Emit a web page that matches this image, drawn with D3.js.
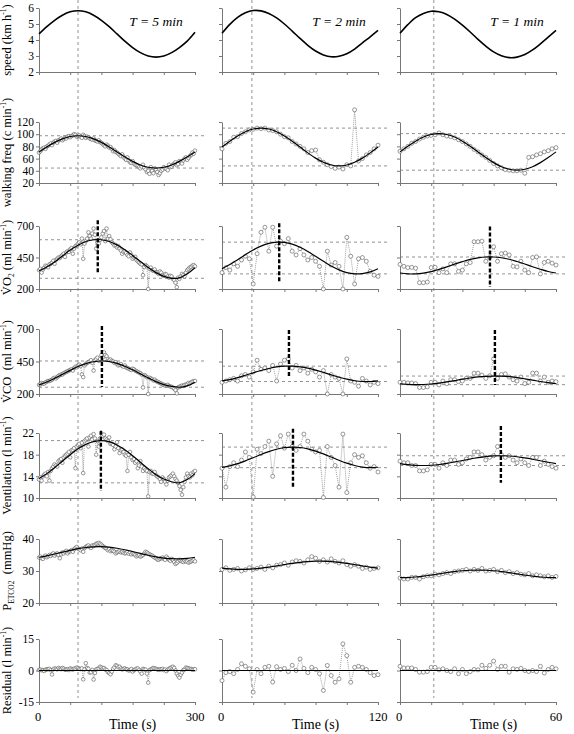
<!DOCTYPE html>
<html><head><meta charset="utf-8">
<script src="https://cdn.jsdelivr.net/npm/d3@7"></script>
<style>
body{margin:0;background:#fff}
svg{display:block}
svg text{font-family:"Liberation Serif","Times New Roman",Times,"Nimbus Roman","DejaVu Serif",serif}
</style>
</head><body><svg id="c" width="574" height="734"></svg>
<script>
// ---------- DATA ----------
const durations = [300, 120, 60];
const periodLabels = ["T = 5 min", "T = 2 min", "T = 1 min"];
const timeTickLabels = [["0", "300"], ["0", "120"], ["0", "60"]];
const speedPeakTimes = [75, 23, 13];           // vertical grey dashed line (s)

const speedTicks = [2, 3, 4, 5, 6];
const walkTicks = [20, 40, 60, 80, 100, 120];
const vo2Ticks = [200, 450, 700];
const vco2Ticks = [200, 450, 700];
const veTicks = [10, 14, 18, 22];
const petTicks = [20, 30, 40];
const residTicks = [-15, 0, 15];

// fitted curves, sampled at T/20 steps
const speedFit1 = [4.38,4.83,5.23,5.55,5.76,5.83,5.76,5.55,5.23,4.83,4.38,3.93,3.53,3.21,3.0,2.93,3.0,3.21,3.53,3.93,4.48];
const speedFit2 = [4.42,4.98,5.42,5.7,5.84,5.82,5.66,5.38,5.0,4.56,4.1,3.67,3.31,3.07,2.95,2.98,3.14,3.43,3.82,4.2,4.6];
const speedFit3 = [4.42,4.96,5.4,5.66,5.8,5.76,5.6,5.31,4.93,4.5,4.04,3.62,3.26,3.02,2.9,2.93,3.09,3.38,3.76,4.18,4.6];

const walkFit1 = [71,79.2,86.6,92.4,96.2,97.5,96.2,92.4,86.6,79.2,71,62.8,55.4,49.6,45.8,44.5,45.8,49.6,55.4,62.8,71];
const walkFit2 = [79,88.6,97.2,104.1,108.5,110,108.5,104.1,97.2,88.6,79,69.4,60.8,53.9,49.5,48,49.5,53.9,60.8,69.4,79];
const walkFit3 = [71,80.3,88.6,95.3,99.5,101,99.5,95.3,88.6,80.3,71,61.7,53.4,46.7,42.5,41,42.5,46.7,53.4,61.7,71];

const vo2Fit1 = [345,375,415,462,509,548,577,591,591,577,550,512,466,418,370,330,300,285,288,320,368];
const vo2Fit2 = [361,394,433,472,510,540,562,572,570,556,531,498,459,420,382,352,330,320,322,336,361];
const vo2Fit3 = [327,320,320,326,338,356,376,397,417,435,447,454,454,448,436,418,398,377,357,339,327];

const vco2Fit1 = [270,292,320,351,382,411,434,448,454,450,436,414,386,355,324,295,272,258,252,262,290];
const vco2Fit2 = [301,311,326,344,363,381,396,408,414,414,409,399,384,366,347,329,314,302,296,296,301];
const vco2Fit3 = [279,274,272,273,277,284,293,303,314,323,331,336,338,337,333,326,317,307,296,287,279];

const veFit1 = [13.6,14.5,15.6,16.8,18.0,19.1,19.9,20.4,20.6,20.4,19.8,18.9,17.8,16.6,15.4,14.3,13.5,13.0,12.8,13.4,14.5];
const veFit2 = [15.67,15.93,16.34,16.86,17.44,18.03,18.57,19.0,19.29,19.4,19.32,19.07,18.66,18.14,17.56,16.97,16.43,16.0,15.71,15.6,15.68];
const veFit3 = [16.36,16.16,16.04,16.0,16.05,16.18,16.39,16.64,16.92,17.2,17.44,17.64,17.76,17.8,17.75,17.62,17.41,17.16,16.88,16.6,16.36];

const petFit1 = [34.29,34.75,35.3,35.9,36.47,36.97,37.35,37.56,37.59,37.44,37.11,36.65,36.1,35.5,34.93,34.43,34.05,33.84,33.81,33.96,34.29];
const petFit2 = [30.88,30.64,30.52,30.52,30.64,30.88,31.21,31.6,32.0,32.39,32.72,32.96,33.08,33.08,32.96,32.72,32.39,32.0,31.6,31.21,30.88];
const petFit3 = [27.9,27.96,28.13,28.39,28.73,29.1,29.47,29.81,30.07,30.24,30.3,30.24,30.07,29.81,29.47,29.1,28.73,28.39,28.13,27.96,27.9];

const residFit = [0, 0];

// measured breath-by-breath values (evenly spread over the window)
const walkData1 = [70,72,75,77,78,76,80,81,83,85,82,86,88,89,86,90,91,93,90,92,94,93,96,97,95,97,98,100,99,96,97,98,96,94,99,97,94,96,95,93,92,91,93,90,89,88,90,87,86,84,82,80,83,81,78,79,76,72,74,71,70,68,66,64,67,63,60,58,62,57,54,53,56,52,50,49,48,46,44,47,50,45,42,38,40,35,46,40,36,44,42,38,33,36,40,42,46,44,43,41,50,46,47,50,52,54,49,51,56,55,52,57,60,62,58,61,64,66,70,68,73];
const walkData2 = [76,85,88,95,96,101,104,107,108,110,109,110,107,106,104,100,96,94,88,84,80,76,70,73,74,58,54,50,47,44,46,43,50,48,140,56,60,66,70,76,82];
const walkData3 = [72,76,80,85,88,92,95,97,98,99,102,99,97,96,94,91,88,84,80,75,71,66,62,57,52,48,45,42,41,40,40,41,36,62,63,66,68,71,73,76,78];

const vo2Data1 = [350,360,330,355,370,385,380,372,395,400,410,425,400,430,440,450,445,460,470,480,455,490,500,495,515,525,480,520,540,545,560,570,555,600,440,560,580,600,650,620,600,640,680,630,520,570,560,590,610,640,660,580,680,600,620,595,570,560,545,550,530,540,520,505,480,495,500,485,470,460,490,470,440,450,455,430,420,410,400,395,310,375,390,380,200,360,370,350,345,355,335,330,320,340,330,310,305,320,315,300,290,305,300,280,270,250,215,290,280,300,320,310,300,330,350,360,370,375,385,390,380];
const vo2Data2 = [330,370,350,400,380,430,460,440,240,480,650,690,500,690,540,580,560,600,500,470,520,470,430,450,420,380,200,500,390,410,380,200,610,460,240,440,450,420,340,310,300];
const vo2Data3 = [395,380,370,372,365,250,250,255,370,372,330,360,330,400,400,340,350,400,410,575,575,580,420,450,535,420,480,485,470,380,375,420,350,330,450,455,320,410,420,405,390];

const vco2Data1 = [270,275,285,280,280,290,295,300,300,305,310,320,325,320,330,340,345,350,350,360,365,370,375,380,385,390,380,400,410,405,420,425,415,350,330,420,430,440,445,450,460,440,380,460,470,480,455,470,500,480,520,500,490,470,460,465,455,450,440,445,430,420,425,430,415,410,420,405,400,395,390,385,395,390,380,375,370,365,360,350,250,345,340,330,200,325,320,315,305,310,300,295,290,285,280,275,270,265,268,270,262,258,255,250,240,230,205,250,255,260,265,262,270,272,275,285,280,290,295,298,300];
const vco2Data2 = [290,300,310,320,300,340,350,330,370,460,390,400,380,420,300,430,460,470,400,420,380,400,360,390,370,330,380,200,350,330,320,200,470,300,290,260,320,300,270,290,280];
const vco2Data3 = [290,290,285,285,280,250,250,255,290,290,270,300,280,310,310,295,300,320,320,360,360,345,320,340,470,320,350,355,330,310,300,330,280,290,360,360,300,330,290,300,295];

const veData1 = [13.4,13.8,13.2,14.0,14.3,14.5,14.0,14.8,13.2,15.0,15.5,15.8,16.2,16.0,15.8,16.8,17.0,17.2,16.5,17.5,17.8,18.0,18.2,18.5,17.5,18.8,18.9,19.2,15.5,19.5,19.8,20.0,19.2,20.2,14.6,20.5,20.8,21.0,19.5,21.2,21.5,20.8,21.8,21.0,18.0,20.5,19.5,21.0,21.9,21.5,21.7,21.0,20.8,20.5,21.2,20.0,20.0,19.8,19.0,19.5,20.3,19.2,18.3,18.8,19.0,18.5,18.0,17.8,15.0,18.0,18.5,17.5,17.0,17.2,16.5,16.8,15.5,16.0,16.8,15.8,15.0,15.5,15.2,15.0,10.3,14.8,15.0,14.5,14.5,14.8,14.2,14.0,13.8,13.5,13.0,13.8,13.5,13.0,12.5,13.2,13.8,14.0,14.2,14.5,14.0,13.5,13.2,12.8,12.2,11.5,10.6,12.0,13.0,13.8,14.5,14.0,13.8,14.5,14.2,14.8,15.0];
const veData2 = [15.5,12.0,15.8,16.5,15.8,17.0,18.5,17.5,10.2,19.0,18.2,19.5,20.5,14.0,20.0,21.5,19.2,21.8,19.5,18.8,19.5,21.8,20.5,19.0,18.5,18.8,10.1,19.5,17.5,16.0,12.0,21.8,11.0,16.5,18.0,17.5,17.8,16.5,15.5,15.8,14.8];
const veData3 = [16.8,16.5,16.5,16.0,16.0,15.0,15.0,15.2,16.2,16.2,15.5,16.5,16.0,17.0,17.0,16.2,16.5,17.2,17.5,18.5,18.5,18.0,17.0,17.5,17.8,19.5,18.0,17.5,17.8,17.0,16.5,17.2,16.5,16.0,17.5,17.5,16.0,16.8,16.2,15.8,15.5];

const petData1 = [34.2,34.5,34.0,33.8,34.5,34.8,34.3,34.6,35.0,34.7,35.2,35.5,34.8,35.3,35.5,35.0,34.0,35.2,35.8,35.5,36.0,36.3,35.5,36.0,36.2,36.5,36.0,36.8,37.2,37.5,37.0,36.8,36.5,37.0,36.0,37.2,37.5,37.8,38.0,37.5,37.2,38.0,37.8,38.2,38.5,38.6,38.8,38.5,38.2,37.8,37.5,37.2,37.0,36.5,36.8,36.2,36.5,36.3,36.0,35.5,35.8,36.0,36.2,35.8,36.0,35.7,35.5,35.6,36.0,35.4,35.8,35.2,35.5,35.3,35.0,34.6,34.8,35.0,34.5,34.7,35.0,35.5,36.0,35.8,35.5,35.2,35.0,34.8,34.5,34.2,34.0,33.6,33.5,33.8,34.0,34.2,33.8,33.5,34.5,34.0,33.5,33.2,33.8,33.5,32.8,32.2,32.5,33.0,33.5,33.2,33.0,32.8,33.2,33.0,33.0,32.6,32.8,33.0,33.2,33.4,33.0];
const petData2 = [30.5,31.0,30.2,30.5,30.8,30.0,30.4,31.0,30.5,30.8,31.2,30.5,31.5,31.0,31.8,32.0,32.5,31.8,32.8,33.2,33.0,32.5,33.5,34.5,34.0,33.0,33.5,32.8,33.8,33.0,32.5,33.2,32.0,31.5,32.0,31.5,30.8,31.2,30.5,30.8,31.0];
const petData3 = [27.8,27.5,27.5,28.0,28.0,27.5,28.2,28.5,28.5,29.0,28.8,29.2,29.5,29.2,29.8,30.0,30.2,30.5,30.0,30.5,30.2,30.8,30.0,30.2,30.5,29.8,30.2,29.5,29.8,29.2,29.5,29.0,28.8,29.2,28.5,28.8,28.5,28.2,28.5,28.0,28.3];

const residData1 = [0.3,0.5,0.1,0.2,-0.2,0.4,0.5,0.6,0.8,0.2,-1.9,0.5,1.0,0.8,0.5,1.2,0.8,0.6,1.2,0.9,0.3,0.5,0.6,0.2,1.0,0.7,0.4,0.9,0.8,1.4,1.2,0.8,0.7,1.0,-4.2,0.5,3.5,1.2,0.8,-1.0,-0.8,0.3,-4.3,-1.2,0.5,0.8,1.0,1.8,1.5,1.0,1.2,0.5,0.2,-0.8,-1.2,-1.8,-0.5,0.8,1.5,2.5,2.2,1.5,1.8,1.0,0.5,0.8,1.0,0.6,0.5,0.0,0.2,0.7,-0.5,0.2,0.5,0.9,1.0,0.3,-0.5,-1.5,0.8,0.5,0.4,-1.5,-5.8,0.2,0.5,0.9,1.2,1.0,0.8,0.5,0.3,0.6,0.5,0.8,0.2,0.5,-0.3,0.4,0.8,1.2,1.5,1.8,1.2,0.0,-1.5,-2.5,-3.4,-2.0,-1.0,0.2,0.5,1.4,1.2,1.0,0.8,0.7,0.4,0.5,0.6];
const residData2 = [-4.8,-1.0,-0.5,-1.5,0.5,3.2,2.0,0.8,-10.3,0.5,-1.5,1.5,2.0,-5.5,1.8,0.5,1.0,-0.5,2.5,0.0,5.5,1.0,-1.0,1.5,0.5,-1.5,-9.5,2.4,-2.4,-5.6,-4.0,12.7,7.1,-5.6,1.5,2.0,1.5,0.5,-1.0,-2.4,-2.0];
const residData3 = [2.0,1.2,1.2,1.2,0.5,-0.8,-0.8,-0.5,1.5,1.5,0.3,0.8,0.0,-0.5,0.8,-1.5,0.5,-1.5,-0.5,0.5,0.3,2.5,1.0,2.5,4.5,0.5,2.0,2.0,-0.8,0.8,0.5,1.0,0.0,-0.5,0.0,-0.5,2.0,-1.2,0.5,1.5,0.8];

// peak markers (bold dashed): [time, low value, high value]
const vo2Peak = [[113, 326, 745], [44, 247, 721], [34.6, 216, 697]];
const vco2Peak = [[121, 254, 723], [51.5, 338, 692], [36.5, 269, 692]];
const vePeak = [[119, 11.3, 22.4], [54.6, 11.7, 22.8], [38.8, 12.8, 23.3]];

// ---------- LAYOUT ----------
const colX = [[39, 195], [222, 378], [400, 556]];
const rowY = [[72, 8], [183, 122], [289, 226], [394, 329], [498, 433], [603, 539], [702, 639]];

const rows = [
  {domain: [2, 6], ticks: speedTicks, fits: [speedFit1, speedFit2, speedFit3], data: null, hl: false, peak: null,
   title: [["speed (km h"], ["-1", "sup"], [")"]]},
  {domain: [20, 120], ticks: walkTicks, fits: [walkFit1, walkFit2, walkFit3], data: [walkData1, walkData2, walkData3], hl: true, peak: null,
   title: [["walking freq (c min"], ["-1", "sup"], [")"]]},
  {domain: [200, 700], ticks: vo2Ticks, fits: [vo2Fit1, vo2Fit2, vo2Fit3], data: [vo2Data1, vo2Data2, vo2Data3], hl: true, peak: vo2Peak,
   title: [["V\u0307O"], ["2", "sub"], ["\u00A0(ml min"], ["-1", "sup"], [")"]]},
  {domain: [200, 700], ticks: vco2Ticks, fits: [vco2Fit1, vco2Fit2, vco2Fit3], data: [vco2Data1, vco2Data2, vco2Data3], hl: true, peak: vco2Peak,
   title: [["V\u0307CO\u00A0\u00A0(ml min"], ["-1", "sup"], [")"]]},
  {domain: [10, 22], ticks: veTicks, fits: [veFit1, veFit2, veFit3], data: [veData1, veData2, veData3], hl: true, peak: vePeak,
   title: [["Ventilation (l min"], ["-1", "sup"], [")"]]},
  {domain: [20, 40], ticks: petTicks, fits: [petFit1, petFit2, petFit3], data: [petData1, petData2, petData3], hl: false, peak: null,
   title: [["P"], ["ETCO2", "sub"], ["\u00A0\u00A0(mmHg)"]]},
  {domain: [-15, 15], ticks: residTicks, fits: [residFit, residFit, residFit], data: [residData1, residData2, residData3], hl: false, peak: null,
   title: [["Residual (l min"], ["-1", "sup"], [")"]]}
];

const svg = d3.select("#c");

// vertical grey dashed line at the speed peak
colX.forEach(([x0, x1], c) => {
  const x = d3.scaleLinear().domain([0, durations[c]]).range([x0, x1]);
  svg.append("line")
    .attr("x1", x(speedPeakTimes[c])).attr("x2", x(speedPeakTimes[c]))
    .attr("y1", 0).attr("y2", 698)
    .attr("stroke", "#777").attr("stroke-width", 0.8).attr("stroke-dasharray", "3,3");
});

rows.forEach((row, r) => {
  const [yb, yt] = rowY[r];
  const y = d3.scaleLinear().domain(row.domain).range([yb, yt]);

  // row title (rotated)
  const t = svg.append("text")
    .attr("transform", `translate(11,${(yb + yt) / 2}) rotate(-90)`)
    .attr("text-anchor", "middle").attr("font-size", 12.5).attr("fill", "#000");
  let shift = 0;
  row.title.forEach(([s, kind]) => {
    const target = kind === "sup" ? -5 : kind === "sub" ? 3 : 0;
    const ts = t.append("tspan").text(s);
    if (target !== shift) ts.attr("dy", target - shift);
    if (kind) ts.attr("font-size", 7.5);
    shift = target;
  });

  colX.forEach(([x0, x1], c) => {
    const T = durations[c];
    const x = d3.scaleLinear().domain([0, T]).range([x0, x1]);
    const g = svg.append("g");

    // x axis
    const xa = g.append("g").attr("transform", `translate(0,${yb})`)
      .call(d3.axisBottom(x).tickValues(d3.range(0, T + 0.001, T / 5)).tickSize(3).tickSizeOuter(0).tickFormat(""));
    xa.selectAll("path,line").attr("stroke", "#777");
    xa.selectAll("text").remove();

    // y axis
    const ya = g.append("g").attr("transform", `translate(${x0},0)`)
      .call(d3.axisLeft(y).tickValues(row.ticks).tickSize(3).tickSizeOuter(0).tickPadding(2)
        .tickFormat(c === 0 ? (d => String(d)) : ""));
    ya.attr("font-family", null);
    ya.selectAll("path,line").attr("stroke", "#777");
    if (c === 0) ya.selectAll("text").attr("font-size", 11.5).attr("fill", "#000");
    else ya.selectAll("text").remove();

    // horizontal dashed lines at fit max/min
    if (row.hl) {
      const fit = row.fits[c];
      [d3.max(fit), d3.min(fit)].forEach(v => {
        g.append("line").attr("x1", x0).attr("x2", x1 + 12)
          .attr("y1", y(v)).attr("y2", y(v))
          .attr("stroke", "#777").attr("stroke-width", 0.8).attr("stroke-dasharray", "3,3");
      });
    }

    // measured data
    if (row.data) {
      const d = row.data[c];
      const dt = T / (d.length - 1);
      const pts = d.map((v, i) => [i * dt, v]);
      g.append("path").datum(pts)
        .attr("d", d3.line().x(p => x(p[0])).y(p => y(p[1])))
        .attr("fill", "none").attr("stroke", "#777").attr("stroke-width", 0.7).attr("stroke-dasharray", "1,1");
      g.selectAll("circle.pt").data(pts).join("circle")
        .attr("cx", p => x(p[0])).attr("cy", p => y(p[1])).attr("r", c === 0 ? 1.8 : 2)
        .attr("fill", "#fff").attr("stroke", "#555").attr("stroke-width", 0.6);
    }

    // fitted curve
    const fit = row.fits[c];
    const fdt = T / (fit.length - 1);
    g.append("path").datum(fit.map((v, i) => [i * fdt, v]))
      .attr("d", d3.line().x(p => x(p[0])).y(p => y(p[1])).curve(d3.curveCatmullRom))
      .attr("fill", "none").attr("stroke", "#000").attr("stroke-width", r === 0 ? 1.6 : 1.2);

    // bold dashed peak marker
    if (row.peak) {
      const [pt, lo, hi] = row.peak[c];
      g.append("line").attr("x1", x(pt)).attr("x2", x(pt))
        .attr("y1", y(hi)).attr("y2", y(lo))
        .attr("stroke", "#000").attr("stroke-width", 2.4).attr("stroke-dasharray", "4,2");
    }

    // period label
    if (r === 0) {
      g.append("text").attr("x", x0 + 117).attr("y", 26).attr("text-anchor", "middle")
        .attr("font-style", "italic").attr("font-size", 13.5).text(periodLabels[c]);
    }

    // bottom time labels
    if (r === rows.length - 1) {
      g.append("text").attr("x", x0 - 1).attr("y", 721).attr("text-anchor", "middle")
        .attr("font-size", 12.5).text(timeTickLabels[c][0]);
      g.append("text").attr("x", x1).attr("y", 721).attr("text-anchor", "middle")
        .attr("font-size", 12.5).text(timeTickLabels[c][1]);
      g.append("text").attr("x", x0 + (x1 - x0) * 0.6).attr("y", 729).attr("text-anchor", "middle")
        .attr("font-size", 14).text("Time (s)");
    }
  });
});
</script>
</body></html>
